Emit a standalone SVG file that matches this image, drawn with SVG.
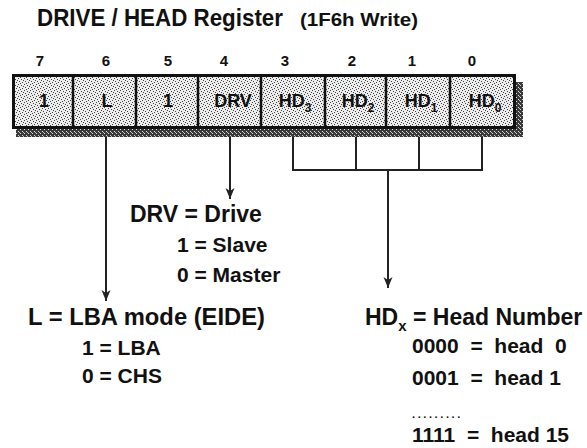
<svg xmlns="http://www.w3.org/2000/svg" width="587" height="448" viewBox="0 0 587 448">
<defs>
<pattern id="stip" width="6" height="6" patternUnits="userSpaceOnUse">
<rect width="6" height="6" fill="#ececec"/>
<rect x="0" y="0" width="1" height="1" fill="#444"/>
<rect x="3" y="1" width="1" height="1" fill="#444"/>
<rect x="1" y="3" width="1" height="1" fill="#444"/>
<rect x="4" y="4" width="1" height="1" fill="#444"/>
<rect x="2" y="5" width="1" height="1" fill="#444"/>
<rect x="5" y="2" width="1" height="1" fill="#444"/>
</pattern>
<pattern id="dark" width="4" height="4" patternUnits="userSpaceOnUse">
<rect width="4" height="4" fill="#3a3a3a"/>
<rect x="0" y="1" width="1" height="1" fill="#d8d8d8"/>
<rect x="2" y="3" width="1" height="1" fill="#d8d8d8"/>
<rect x="3" y="0" width="1" height="1" fill="#bbb"/>
</pattern>
<marker id="arr" markerUnits="userSpaceOnUse" markerWidth="12" markerHeight="10" refX="11" refY="5" orient="auto" viewBox="0 0 12 10">
<path d="M0,0.5 L11,5 L0,9.5 L3,5 Z" fill="#222"/>
</marker>
<style>
text{font-family:"Liberation Sans",Arial,sans-serif;font-weight:bold;fill:#111}
.bit{font-size:15px;text-anchor:middle}
.cell{font-size:18px;text-anchor:middle}
.big{font-size:23px}
.sub{font-size:21px;white-space:pre}
.div{stroke:#111;stroke-width:2.5}
.conn{stroke:#222;stroke-width:2;fill:none}
</style>
</defs>
<rect width="587" height="448" fill="#fff"/>

<g id="title">
<text x="37" y="26" font-size="23" textLength="246" lengthAdjust="spacingAndGlyphs">DRIVE / HEAD Register</text>
<text x="300" y="26" font-size="19" textLength="118" lengthAdjust="spacingAndGlyphs">(1F6h Write)</text>
</g>

<g id="bits">
<text class="bit" x="40" y="66">7</text>
<text class="bit" x="106" y="66">6</text>
<text class="bit" x="168" y="66">5</text>
<text class="bit" x="224" y="66">4</text>
<text class="bit" x="285" y="66">3</text>
<text class="bit" x="352" y="66">2</text>
<text class="bit" x="412" y="66">1</text>
<text class="bit" x="472" y="66">0</text>
</g>

<g id="register">
<rect x="16" y="128" width="507" height="9" fill="url(#dark)"/>
<rect x="515" y="82" width="8" height="55" fill="url(#dark)"/>
<rect x="13.5" y="75.5" width="501" height="52" fill="url(#stip)" stroke="#111" stroke-width="3"/>
<line class="div" x1="73" y1="75" x2="73" y2="128"/>
<line class="div" x1="136" y1="75" x2="136" y2="128"/>
<line class="div" x1="198" y1="75" x2="198" y2="128"/>
<line class="div" x1="261" y1="75" x2="261" y2="128"/>
<line class="div" x1="325" y1="75" x2="325" y2="128"/>
<line class="div" x1="386" y1="75" x2="386" y2="128"/>
<line class="div" x1="450" y1="75" x2="450" y2="128"/>
</g>

<g id="cell7"><text class="cell" x="44" y="107">1</text></g>
<g id="cell6"><text class="cell" x="107" y="107">L</text></g>
<g id="cell5"><text class="cell" x="168" y="107">1</text></g>
<g id="cell4"><text class="cell" x="233" y="107">DRV</text></g>
<g id="cell3"><text class="cell" x="295" y="107">HD<tspan font-size="12" dy="5">3</tspan></text></g>
<g id="cell2"><text class="cell" x="358" y="107">HD<tspan font-size="12" dy="5">2</tspan></text></g>
<g id="cell1"><text class="cell" x="421" y="107">HD<tspan font-size="12" dy="5">1</tspan></text></g>
<g id="cell0"><text class="cell" x="485" y="107">HD<tspan font-size="12" dy="5">0</tspan></text></g>

<g id="connectors">
<line class="conn" x1="106" y1="137" x2="106" y2="301" marker-end="url(#arr)"/>
<line class="conn" x1="230" y1="137" x2="230" y2="199" marker-end="url(#arr)"/>
<polyline class="conn" points="293,137 293,170 482,170 482,137"/>
<line class="conn" x1="356" y1="137" x2="356" y2="170"/>
<line class="conn" x1="419" y1="137" x2="419" y2="170"/>
<line class="conn" x1="388" y1="170" x2="388" y2="288" marker-end="url(#arr)"/>
</g>

<g id="drv-legend">
<text class="big" x="130" y="222">DRV = Drive</text>
<text class="sub" x="177" y="252">1 = Slave</text>
<text class="sub" x="177" y="282">0 = Master</text>
</g>

<g id="lba-legend">
<text class="big" x="28" y="325" textLength="237" lengthAdjust="spacingAndGlyphs">L = LBA mode (EIDE)</text>
<text class="sub" x="82" y="355" font-size="20">1 = LBA</text>
<text class="sub" x="82" y="383" font-size="20">0 = CHS</text>
</g>

<g id="hd-legend">
<text class="big" x="365" y="325">HD<tspan font-size="15" dy="6">x</tspan><tspan dy="-6"> = Head Number</tspan></text>
<text class="sub" x="412" y="353">0000  =  head  0</text>
<text class="sub" x="412" y="385">0001  =  head 1</text>
<text x="412" y="418" font-size="11" letter-spacing="2.6" fill="#555">.........</text>
<text class="sub" x="412" y="442">1111  =  head 15</text>
</g>
</svg>
